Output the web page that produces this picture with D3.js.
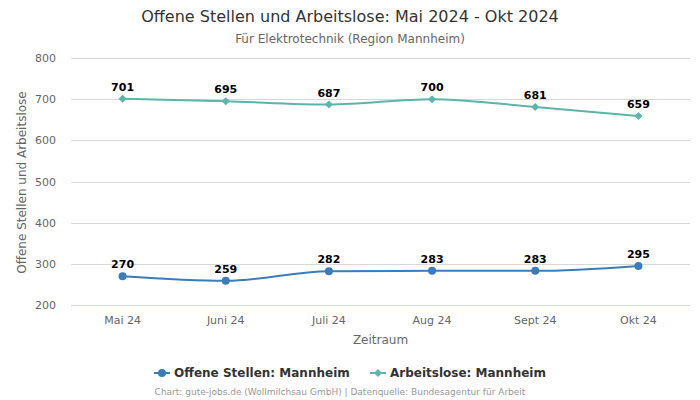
<!DOCTYPE html>
<html><head><meta charset="utf-8">
<script src="https://cdn.jsdelivr.net/npm/d3@7"></script>
<style>body{margin:0;background:#fff;font-family:"DejaVu Sans",sans-serif}</style>
</head><body><svg id="c" width="700" height="400"></svg>
<script>
const categories = ["Mai 24","Juni 24","Juli 24","Aug 24","Sept 24","Okt 24"];
const offeneStellen = [270,259,282,283,283,295];
const arbeitslose = [701,695,687,700,681,659];
const yTicks = [200,300,400,500,600,700,800];
const seriesNames = ["Offene Stellen: Mannheim","Arbeitslose: Mannheim"];

const svg = d3.select("#c");
const L=71,R=690,T=58,B=305;
const x = d3.scaleBand().domain(categories).range([L,R]);
const y = d3.scaleLinear().domain([200,800]).range([B,T]);
const ff='"DejaVu Sans",sans-serif';

svg.append("text").attr("x",350).attr("y",22).attr("text-anchor","middle").attr("font-size",16).attr("fill","#333").attr("font-family",ff).text("Offene Stellen und Arbeitslose: Mai 2024 - Okt 2024");
svg.append("text").attr("x",350).attr("y",43).attr("text-anchor","middle").attr("font-size",12).attr("fill","#666").attr("font-family",ff).text("Für Elektrotechnik (Region Mannheim)");

// grid
svg.append("g").selectAll("line").data(yTicks).join("line")
 .attr("x1",L).attr("x2",R).attr("y1",d=>Math.round(y(d))+0.5).attr("y2",d=>Math.round(y(d))+0.5)
 .attr("stroke",d=>d===200?"#ccd6eb":"#d8d8d8").attr("stroke-width",1);
svg.append("g").selectAll("text").data(yTicks).join("text")
 .attr("x",56).attr("y",d=>y(d)+4).attr("text-anchor","end").attr("font-size",11).attr("fill","#666").attr("font-family",ff).text(d=>d);
svg.append("g").selectAll("text").data(categories).join("text")
 .attr("x",d=>x(d)+x.bandwidth()/2).attr("y",324).attr("text-anchor","middle").attr("font-size",11).attr("fill","#666").attr("font-family",ff).text(d=>d);
svg.append("text").attr("x",(L+R)/2).attr("y",344).attr("text-anchor","middle").attr("font-size",12).attr("fill","#666").attr("font-family",ff).text("Zeitraum");
svg.append("text").attr("transform",`translate(26,${(T+B)/2+1}) rotate(-90)`).attr("text-anchor","middle").attr("font-size",12).attr("fill","#666").attr("font-family",ff).text("Offene Stellen und Arbeitslose");

const cx = d=>x(d)+x.bandwidth()/2;
const line = d3.line().x((d,i)=>cx(categories[i])).y(d=>y(d)).curve(d3.curveMonotoneX);
const series=[{v:offeneStellen,c:"#3a7db8",shape:"circle"},{v:arbeitslose,c:"#5bb5aa",shape:"diamond"}];
series.forEach(s=>{
  svg.append("path").attr("d",line(s.v)).attr("fill","none").attr("stroke",s.c).attr("stroke-width",2);
  const g=svg.append("g");
  s.v.forEach((v,i)=>{
    const px=cx(categories[i]),py=y(v);
    if(s.shape==="circle") g.append("circle").attr("cx",px).attr("cy",py).attr("r",4).attr("fill",s.c);
    else g.append("path").attr("d",`M${px},${py-4}L${px+4},${py}L${px},${py+4}L${px-4},${py}Z`).attr("fill",s.c);
    g.append("text").attr("x",px).attr("y",py-8).attr("text-anchor","middle").attr("font-size",11).attr("font-weight","bold").attr("fill","#000").attr("font-family",ff).text(v);
  });
});

// legend
const lg=svg.append("g");
const items=[{x:154,c:"#3a7db8",shape:"circle",t:seriesNames[0]},{x:370,c:"#5bb5aa",shape:"diamond",t:seriesNames[1]}];
items.forEach(it=>{
  lg.append("line").attr("x1",it.x).attr("x2",it.x+16).attr("y1",373).attr("y2",373).attr("stroke",it.c).attr("stroke-width",2);
  const px=it.x+8,py=373;
  if(it.shape==="circle") lg.append("circle").attr("cx",px).attr("cy",py).attr("r",4).attr("fill",it.c);
  else lg.append("path").attr("d",`M${px},${py-4}L${px+4},${py}L${px},${py+4}L${px-4},${py}Z`).attr("fill",it.c);
  lg.append("text").attr("x",it.x+20).attr("y",377).attr("font-size",12).attr("font-weight","bold").attr("fill","#333").attr("font-family",ff).text(it.t);
});
svg.append("text").attr("x",340).attr("y",395).attr("text-anchor","middle").attr("font-size",9).attr("fill","#999").attr("font-family",ff).text("Chart: gute-jobs.de (Wollmilchsau GmbH) | Datenquelle: Bundesagentur für Arbeit");
</script></body></html>
